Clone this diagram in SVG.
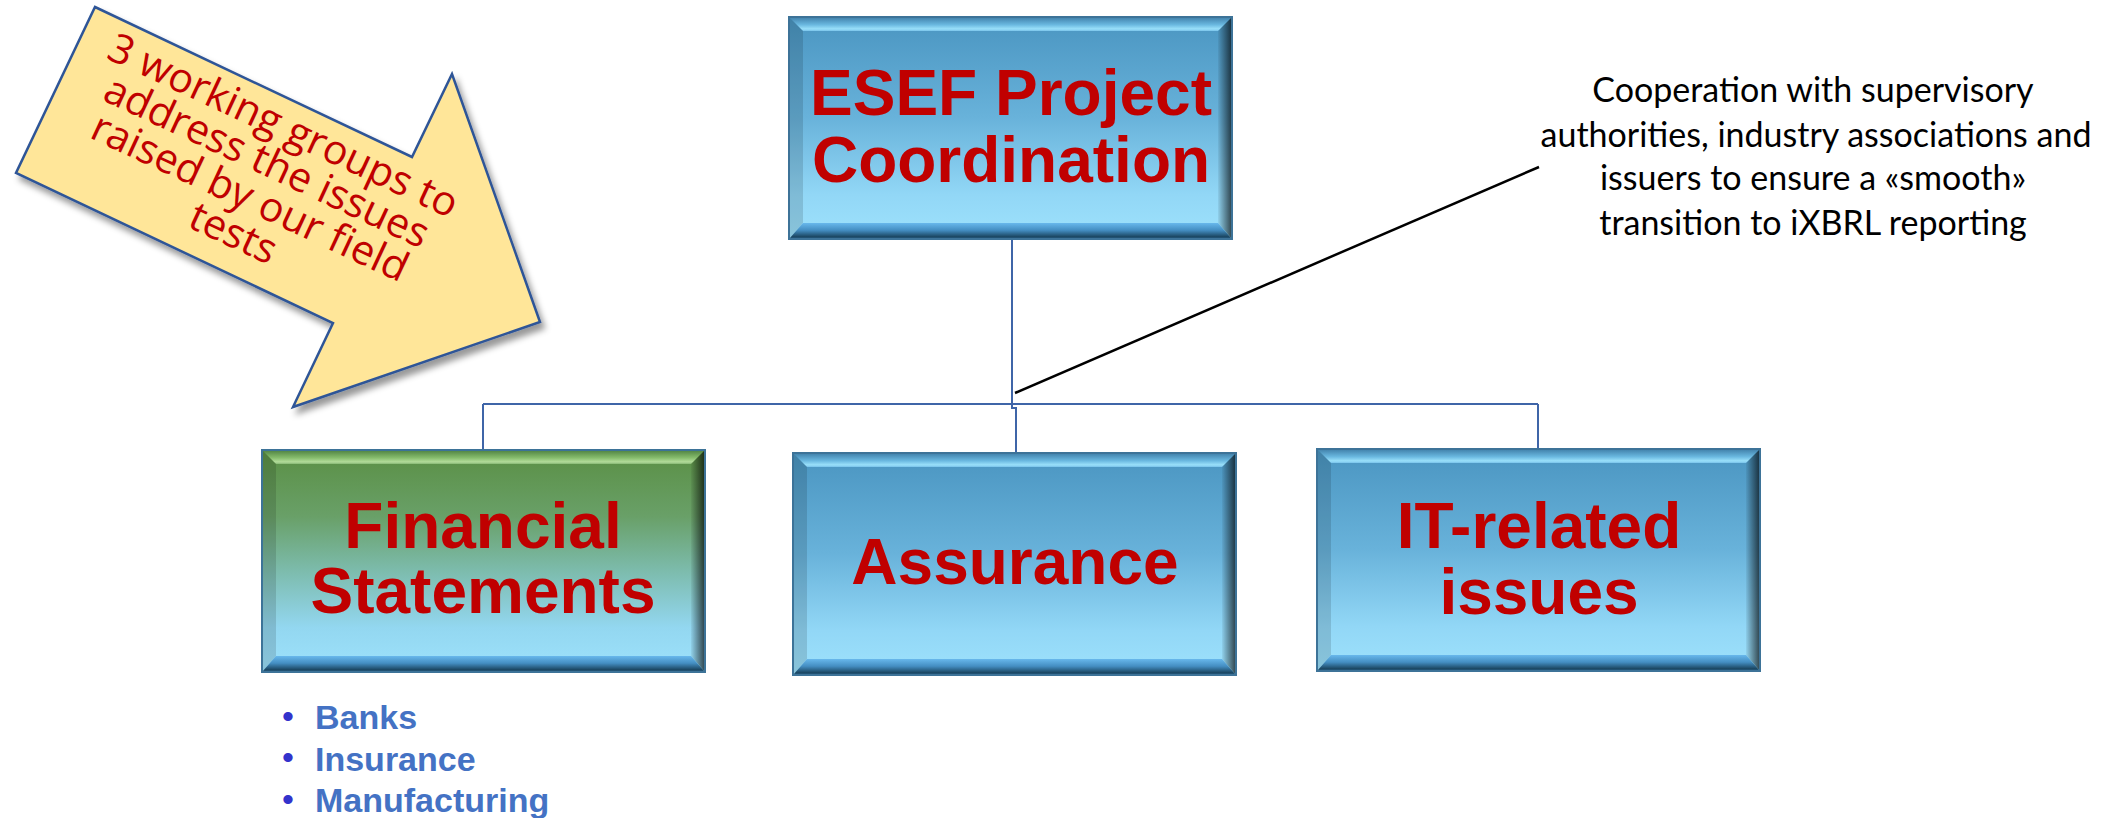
<svg xmlns="http://www.w3.org/2000/svg" width="2124" height="818" viewBox="0 0 2124 818">
<defs>
<style>
.title{font-family:"Liberation Sans",Arial,sans-serif;font-weight:bold;font-size:64px;fill:#C00000;text-anchor:middle}
.conn{stroke:#3F65A8;stroke-width:2;fill:none}
.callout{stroke:#000;stroke-width:2.5;fill:none}
.frame{fill:none;stroke:#3d7398;stroke-width:2}
.note{font-family:Lato,"Open Sans",sans-serif;font-size:34px;fill:#000;text-anchor:middle}
.arrowtxt{font-family:"Open Sans","Noto Sans",sans-serif;font-size:41px;fill:#C00000;text-anchor:middle}
.bul{font-family:"Liberation Sans",Arial,sans-serif;font-size:34px;fill:#3333CC;text-anchor:middle}
.item{font-family:"Liberation Sans",Arial,sans-serif;font-weight:bold;font-size:34px;fill:#4472C4}
</style>
<linearGradient id="bodyBlue" x1="0" y1="0" x2="0" y2="1">
<stop offset="0" stop-color="#4a95c1"/>
<stop offset="0.45" stop-color="#68b2da"/>
<stop offset="0.8" stop-color="#92d7f6"/>
<stop offset="1" stop-color="#9ee2fc"/>
</linearGradient>
<linearGradient id="bodyGreen" x1="0" y1="0" x2="0" y2="1">
<stop offset="0" stop-color="#5a8f44"/>
<stop offset="0.3" stop-color="#69a068"/>
<stop offset="0.55" stop-color="#7dbcae"/>
<stop offset="0.8" stop-color="#93d7f0"/>
<stop offset="1" stop-color="#9ee2fc"/>
</linearGradient>
<linearGradient id="topBlue" x1="0" y1="0" x2="0" y2="1">
<stop offset="0" stop-color="#3f7ea8"/>
<stop offset="0.55" stop-color="#6ab8e0"/>
<stop offset="0.85" stop-color="#9ae0fa"/>
<stop offset="1" stop-color="#78c2ea"/>
</linearGradient>
<linearGradient id="topGreen" x1="0" y1="0" x2="0" y2="1">
<stop offset="0" stop-color="#4d8040"/>
<stop offset="0.55" stop-color="#86bc6c"/>
<stop offset="0.85" stop-color="#b2dc9a"/>
<stop offset="1" stop-color="#86b874"/>
</linearGradient>
<linearGradient id="rightBev" x1="0" y1="0" x2="1" y2="0">
<stop offset="0" stop-color="#000" stop-opacity="0.05"/>
<stop offset="1" stop-color="#000" stop-opacity="0.7"/>
</linearGradient>
<linearGradient id="botBev" x1="0" y1="0" x2="0" y2="1">
<stop offset="0" stop-color="#68b8ec"/>
<stop offset="0.45" stop-color="#448ec2"/>
<stop offset="0.85" stop-color="#1c4864"/>
<stop offset="1" stop-color="#2a6088"/>
</linearGradient>
<filter id="shadow" x="-10%" y="-10%" width="130%" height="130%">
<feDropShadow dx="4" dy="6" stdDeviation="3" flood-color="#000" flood-opacity="0.4"/>
</filter>
</defs>

<g id="connectors">
<path class="conn" d="M1012,239 V404"/>
<path class="conn" d="M483,404 H1538"/>
<path class="conn" d="M483,404 V450"/>
<path class="conn" d="M1012,404 V408 H1016 V453"/>
<path class="conn" d="M1538,404 V449"/>
<path class="callout" d="M1539,167 L1015,393"/>
</g>

<g id="esef-coordination" transform="translate(789,17)">
<rect width="443" height="222" fill="url(#bodyBlue)"/>
<polygon points="0,0 443,0 429,14 14,14" fill="url(#topBlue)"/>
<polygon points="0,0 14,14 14,206 0,222" fill="#000" fill-opacity="0.13"/>
<polygon points="443,0 429,14 429,206 443,222" fill="url(#rightBev)"/>
<polygon points="0,222 14,206 429,206 443,222" fill="url(#botBev)"/>
<rect class="frame" width="443" height="222"/>
<text class="title" x="222" y="98">ESEF Project</text>
<text class="title" x="222" y="165">Coordination</text>
</g>

<g id="financial-statements" transform="translate(262,450)">
<rect width="443" height="222" fill="url(#bodyGreen)"/>
<polygon points="0,0 443,0 429,14 14,14" fill="url(#topGreen)"/>
<polygon points="0,0 14,14 14,206 0,222" fill="#000" fill-opacity="0.13"/>
<polygon points="443,0 429,14 429,206 443,222" fill="url(#rightBev)"/>
<polygon points="0,222 14,206 429,206 443,222" fill="url(#botBev)"/>
<rect class="frame" width="443" height="222"/>
<text class="title" x="221" y="98">Financial</text>
<text class="title" x="221" y="163">Statements</text>
</g>

<g id="assurance" transform="translate(793,453)">
<rect width="443" height="222" fill="url(#bodyBlue)"/>
<polygon points="0,0 443,0 429,14 14,14" fill="url(#topBlue)"/>
<polygon points="0,0 14,14 14,206 0,222" fill="#000" fill-opacity="0.13"/>
<polygon points="443,0 429,14 429,206 443,222" fill="url(#rightBev)"/>
<polygon points="0,222 14,206 429,206 443,222" fill="url(#botBev)"/>
<rect class="frame" width="443" height="222"/>
<text class="title" x="222" y="131">Assurance</text>
</g>

<g id="it-related" transform="translate(1317,449)">
<rect width="443" height="222" fill="url(#bodyBlue)"/>
<polygon points="0,0 443,0 429,14 14,14" fill="url(#topBlue)"/>
<polygon points="0,0 14,14 14,206 0,222" fill="#000" fill-opacity="0.13"/>
<polygon points="443,0 429,14 429,206 443,222" fill="url(#rightBev)"/>
<polygon points="0,222 14,206 429,206 443,222" fill="url(#botBev)"/>
<rect class="frame" width="443" height="222"/>
<text class="title" x="222" y="99">IT-related</text>
<text class="title" x="222" y="165">issues</text>
</g>

<g id="working-groups-arrow">
<polygon points="95,7 412,157 452,74 540,322 293,407 333,323 16,173" fill="#FFE699" stroke="#2F5597" stroke-width="2.5" stroke-linejoin="miter" filter="url(#shadow)"/>
<g transform="rotate(25)">
<text class="arrowtxt" x="310" y="8">3 working groups to</text>
<text class="arrowtxt" x="310" y="47.5">address the issues</text>
<text class="arrowtxt" x="310" y="87">raised by our field</text>
<text class="arrowtxt" x="310" y="126.5">tests</text>
</g>
</g>

<g id="cooperation-note">
<text class="note" x="1813" y="102">Cooperation with supervisory</text>
<text class="note" x="1816" y="147">authorities, industry associations and</text>
<text class="note" x="1813" y="190">issuers to ensure a «smooth»</text>
<text class="note" x="1813" y="235">transition to iXBRL reporting</text>
</g>

<g id="fs-sectors">
<text class="bul" x="288" y="728">•</text>
<text class="item" x="315" y="729">Banks</text>
<text class="bul" x="288" y="769">•</text>
<text class="item" x="315" y="771">Insurance</text>
<text class="bul" x="288" y="811">•</text>
<text class="item" x="315" y="812">Manufacturing</text>
</g>
</svg>
